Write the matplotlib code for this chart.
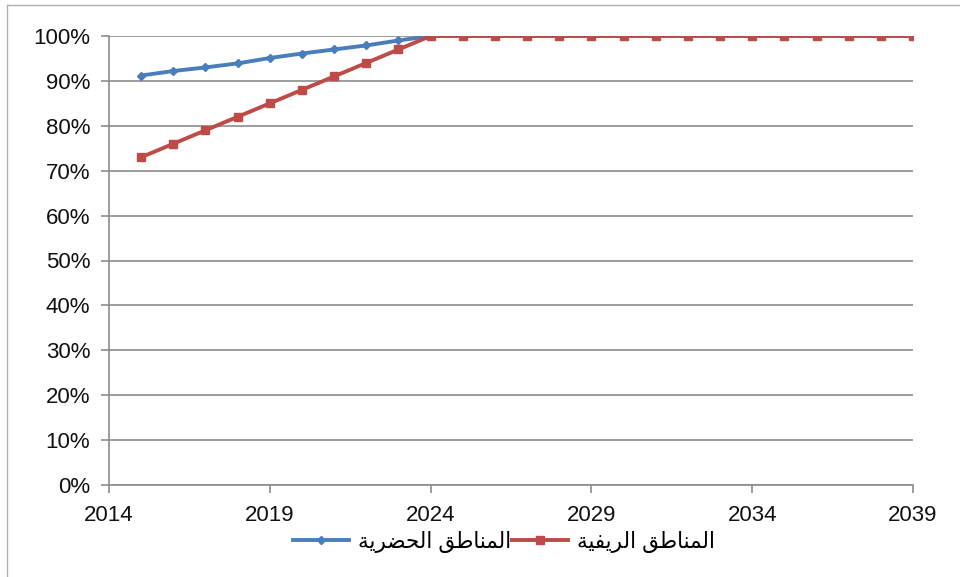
import matplotlib
matplotlib.use("Agg")
import matplotlib.pyplot as plt
from matplotlib.lines import Line2D

years = list(range(2015, 2040))
urban = [91.2, 92.2, 93.0, 93.9, 95.1, 96.1, 97.0, 97.9, 99.0] + [100.0] * 16
rural = [73, 76, 79, 82, 85, 88, 91, 94, 97] + [100] * 16
x_ticks = [2014, 2019, 2024, 2029, 2034, 2039]
y_ticks = list(range(0, 101, 10))
label_urban = "المناطق الحضرية"
label_rural = "المناطق الريفية"

# minimal Arabic shaping (presentation forms, visual order)
FORMS = {
    'ا': ('\uFE8D', '\uFE8E', None, None),
    'ل': ('\uFEDD', '\uFEDE', '\uFEDF', '\uFEE0'),
    'م': ('\uFEE1', '\uFEE2', '\uFEE3', '\uFEE4'),
    'ن': ('\uFEE5', '\uFEE6', '\uFEE7', '\uFEE8'),
    'ط': ('\uFEC1', '\uFEC2', '\uFEC3', '\uFEC4'),
    'ق': ('\uFED5', '\uFED6', '\uFED7', '\uFED8'),
    'ح': ('\uFEA1', '\uFEA2', '\uFEA3', '\uFEA4'),
    'ض': ('\uFEBD', '\uFEBE', '\uFEBF', '\uFEC0'),
    'ر': ('\uFEAD', '\uFEAE', None, None),
    'ي': ('\uFEF1', '\uFEF2', '\uFEF3', '\uFEF4'),
    'ة': ('\uFE93', '\uFE94', None, None),
    'ف': ('\uFED1', '\uFED2', '\uFED3', '\uFED4'),
}


def shape(text):
    out = []
    n = len(text)
    for i, ch in enumerate(text):
        if ch not in FORMS:
            out.append(ch)
            continue
        f = FORMS[ch]
        prev = text[i - 1] if i > 0 else ' '
        nxt = text[i + 1] if i < n - 1 else ' '
        join_prev = prev in FORMS and FORMS[prev][2] is not None
        join_next = nxt in FORMS and f[2] is not None
        if join_prev and join_next:
            out.append(f[3])
        elif join_prev:
            out.append(f[1])
        elif join_next:
            out.append(f[2])
        else:
            out.append(f[0])
    return ''.join(reversed(out))


FONT = ['Liberation Sans', 'DejaVu Sans']
plt.rcParams['font.family'] = FONT

blue = '#4a7ebb'
red = '#be4b48'
grid = '#8c8c8c'

fig = plt.figure(figsize=(9.6, 5.77), dpi=100)
ax = fig.add_axes([109 / 960, 1 - 485 / 577, (913 - 109) / 960, (485 - 36) / 577])

ax.plot(years, urban, color=blue, lw=2.8, marker='D', ms=4, mfc=blue, mec=blue, zorder=3)
ax.plot(years, rural, color=red, lw=2.8, marker='s', ms=6, mfc=red, mec=red, zorder=4)

ax.set_xlim(2014, 2039)
ax.set_ylim(0, 100)
ax.set_xticks(x_ticks)
ax.set_yticks(y_ticks)
ax.set_yticklabels([f"{v}%" for v in y_ticks])
ax.yaxis.grid(True, color=grid, lw=1.2)
ax.set_axisbelow(True)
for s in ['top', 'right']:
    ax.spines[s].set_visible(False)
for s in ['left', 'bottom']:
    ax.spines[s].set_color(grid)
    ax.spines[s].set_linewidth(1.2)
ax.tick_params(axis='both', colors=grid, width=1.2, length=5.5, labelsize=16,
               labelcolor='#111111')
ax.tick_params(axis='y', pad=8)
ax.tick_params(axis='x', pad=9)

handles = [Line2D([], [], color=blue, lw=2.8, marker='D', ms=4),
           Line2D([], [], color=red, lw=2.8, marker='s', ms=6)]
fig.legend(handles, [shape(label_urban), shape(label_rural)], ncol=2,
           loc='center', bbox_to_anchor=(504 / 960, 1 - 542 / 577),
           frameon=False, handlelength=2.6, handletextpad=0.45,
           columnspacing=0.0, prop={'family': FONT, 'size': 15.5})

# partial figure frame
fig.add_artist(Line2D([7 / 960, 7 / 960], [0, 1 - 5 / 577], color='#b0b0b0', lw=1,
                      transform=fig.transFigure))
fig.add_artist(Line2D([7 / 960, 1], [1 - 5 / 577, 1 - 5 / 577], color='#b0b0b0', lw=1,
                      transform=fig.transFigure))

fig.savefig('out.png', dpi=100)
